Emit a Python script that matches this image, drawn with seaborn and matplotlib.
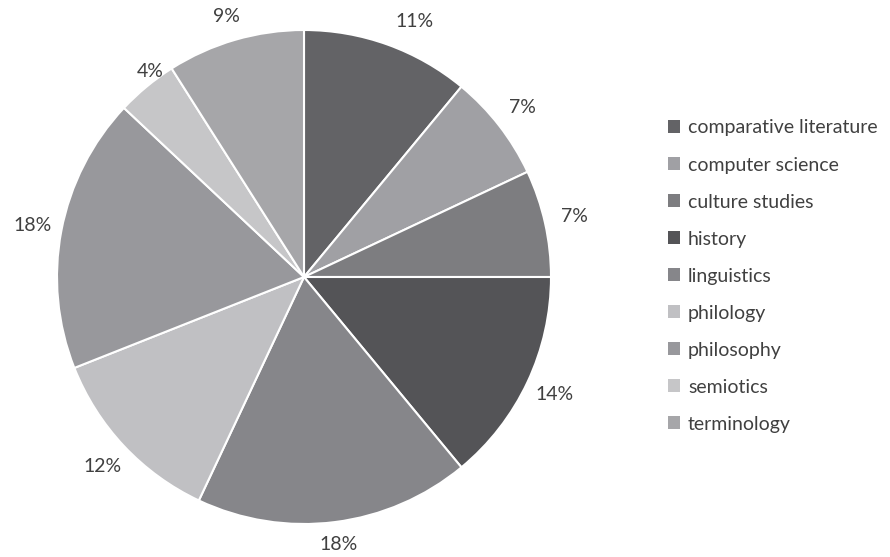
import matplotlib
matplotlib.use("Agg")
import matplotlib.pyplot as plt
import seaborn as sns

categories = ["comparative literature", "computer science", "culture studies", "history",
              "linguistics", "philology", "philosophy", "semiotics", "terminology"]
values = [11, 7, 7, 14, 18, 12, 18, 4, 9]
colors = ["#636366", "#a0a0a4", "#7d7d80", "#545457", "#86868a",
          "#c0c0c3", "#98989c", "#c6c6c8", "#a6a6a9"]

sns.set_theme(style="white")
plt.rcParams['font.family'] = ['Lato', 'DejaVu Sans']

fig = plt.figure(figsize=(8.9, 5.57), dpi=100)
ax = fig.add_axes([57/890, 33/557, 494/890, 494/557])
wedges, texts, autotexts = ax.pie(
    values, colors=colors, startangle=90, counterclock=False,
    autopct=lambda p: f"{p:.0f}%", pctdistance=1.12, radius=1.0,
    wedgeprops=dict(edgecolor="white", linewidth=1.5),
    textprops=dict(fontsize=14, color="#404040"))
# small nudges to match reference placement
nudges = {0: (0.07, -0.02), 4: (0.0, 0.03), 7: (0.09, -0.03), 8: (0.0, -0.02)}
for i, (dx, dy) in nudges.items():
    x, y = autotexts[i].get_position()
    autotexts[i].set_position((x + dx, y + dy))
ax.set_xlim(-1, 1); ax.set_ylim(-1, 1)
ax.set_aspect("equal")

leg = fig.legend(wedges, categories, loc="upper left",
                 bbox_to_anchor=(650/890, 1 - 102/557), frameon=False,
                 fontsize=14, labelcolor="#404040",
                 handlelength=0.65, handleheight=0.65, handletextpad=0.4,
                 labelspacing=1.03)
for h in leg.legend_handles:
    h.set_edgecolor("none")

fig.savefig("out.png", dpi=100)
